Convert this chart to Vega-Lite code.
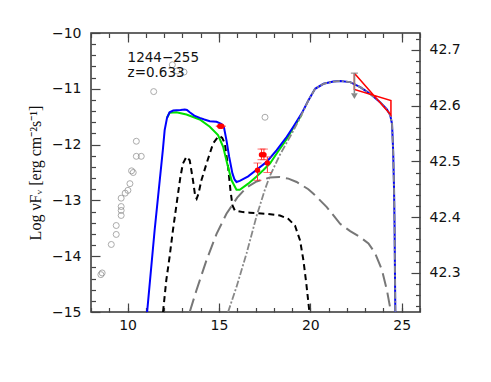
{
  "$schema": "https://vega.github.io/schema/vega-lite/v6.json",
  "width": 329,
  "height": 279,
  "autosize": {"type": "none"},
  "padding": {"left": 91, "top": 33, "right": 71, "bottom": 70},
  "background": "white",
  "config": {
    "view": {"stroke": "#333", "strokeWidth": 1.5},
    "axis": {"domain": false, "grid": false, "tickColor": "#444", "tickWidth": 1.2, "labelFont": "DejaVu Sans", "labelFontSize": 14, "labelColor": "#111", "titleFont": "Liberation Serif", "titleFontSize": 16, "titleFontWeight": "normal", "titleColor": "#111"}
  },
  "datasets": {
    "blue": [
      {"x": 11.07, "y": -15.0}, {"x": 11.48, "y": -13.54}, {"x": 11.93, "y": -12.10}, {"x": 12.03, "y": -11.74}, {"x": 12.16, "y": -11.52}, {"x": 12.30, "y": -11.42}, {"x": 12.5, "y": -11.39}, {"x": 12.67, "y": -11.385}, {"x": 12.9, "y": -11.38}, {"x": 13.13, "y": -11.37}, {"x": 13.25, "y": -11.38}, {"x": 13.40, "y": -11.42}, {"x": 13.65, "y": -11.48}, {"x": 13.95, "y": -11.52}, {"x": 14.2, "y": -11.55}, {"x": 14.50, "y": -11.58}, {"x": 14.87, "y": -11.59}, {"x": 15.14, "y": -11.63}, {"x": 15.28, "y": -11.70}, {"x": 15.41, "y": -11.92}, {"x": 15.56, "y": -12.22}, {"x": 15.74, "y": -12.52}, {"x": 15.86, "y": -12.63}, {"x": 15.96, "y": -12.67}, {"x": 16.14, "y": -12.65}, {"x": 16.60, "y": -12.57}, {"x": 17.06, "y": -12.45}, {"x": 17.61, "y": -12.31}, {"x": 18.16, "y": -12.10}, {"x": 18.71, "y": -11.86}, {"x": 19.07, "y": -11.68}, {"x": 19.53, "y": -11.44}, {"x": 19.89, "y": -11.21}, {"x": 20.26, "y": -11.00}, {"x": 20.72, "y": -10.91}, {"x": 21.26, "y": -10.87}, {"x": 21.63, "y": -10.86}, {"x": 22.18, "y": -10.88}, {"x": 22.73, "y": -10.97}, {"x": 23.27, "y": -11.09}, {"x": 23.82, "y": -11.24}, {"x": 24.19, "y": -11.37}, {"x": 24.37, "y": -11.47}, {"x": 24.47, "y": -11.63}, {"x": 24.53, "y": -12.1}, {"x": 24.58, "y": -12.8}, {"x": 24.61, "y": -13.5}, {"x": 24.63, "y": -14.3}, {"x": 24.65, "y": -15.0}
    ],
    "green": [
      {"x": 12.16, "y": -11.52}, {"x": 12.30, "y": -11.43}, {"x": 12.67, "y": -11.42}, {"x": 13.22, "y": -11.46}, {"x": 13.95, "y": -11.55}, {"x": 14.50, "y": -11.68}, {"x": 14.95, "y": -11.83}, {"x": 15.23, "y": -12.04}, {"x": 15.45, "y": -12.34}, {"x": 15.69, "y": -12.64}, {"x": 15.96, "y": -12.81}, {"x": 16.14, "y": -12.81}, {"x": 16.60, "y": -12.70}, {"x": 17.06, "y": -12.57}, {"x": 17.42, "y": -12.46}, {"x": 17.79, "y": -12.34}, {"x": 18.16, "y": -12.16}, {"x": 18.71, "y": -11.90}, {"x": 19.07, "y": -11.70}, {"x": 19.53, "y": -11.46}
    ],
    "black": [
      {"x": 11.94, "y": -15.0}, {"x": 12.12, "y": -14.43}, {"x": 12.30, "y": -14.01}, {"x": 12.48, "y": -13.54}, {"x": 12.71, "y": -13.00}, {"x": 12.89, "y": -12.58}, {"x": 13.03, "y": -12.34}, {"x": 13.22, "y": -12.22}, {"x": 13.40, "y": -12.28}, {"x": 13.58, "y": -12.64}, {"x": 13.70, "y": -12.92}, {"x": 13.78, "y": -12.97}, {"x": 13.88, "y": -12.88}, {"x": 14.04, "y": -12.64}, {"x": 14.32, "y": -12.34}, {"x": 14.68, "y": -11.98}, {"x": 14.95, "y": -11.86}, {"x": 15.05, "y": -11.85}, {"x": 15.18, "y": -11.88}, {"x": 15.32, "y": -11.98}, {"x": 15.50, "y": -12.40}, {"x": 15.63, "y": -12.82}, {"x": 15.74, "y": -13.09}, {"x": 15.87, "y": -13.18}, {"x": 16.32, "y": -13.21}, {"x": 16.69, "y": -13.22}, {"x": 17.61, "y": -13.24}, {"x": 18.34, "y": -13.27}, {"x": 18.79, "y": -13.33}, {"x": 19.16, "y": -13.45}, {"x": 19.44, "y": -13.72}, {"x": 19.62, "y": -14.07}, {"x": 19.78, "y": -14.49}, {"x": 19.88, "y": -14.79}, {"x": 19.95, "y": -15.0}
    ],
    "ssc": [
      {"x": 13.40, "y": -15.0}, {"x": 13.77, "y": -14.61}, {"x": 14.32, "y": -14.07}, {"x": 14.87, "y": -13.60}, {"x": 15.41, "y": -13.24}, {"x": 16.0, "y": -12.95}, {"x": 16.5, "y": -12.77}, {"x": 17.06, "y": -12.66}, {"x": 17.79, "y": -12.59}, {"x": 18.3, "y": -12.58}, {"x": 18.8, "y": -12.61}, {"x": 19.25, "y": -12.67}, {"x": 19.89, "y": -12.80}, {"x": 20.17, "y": -12.88}, {"x": 20.90, "y": -13.12}, {"x": 21.63, "y": -13.42}, {"x": 22.18, "y": -13.55}, {"x": 22.73, "y": -13.66}, {"x": 23.18, "y": -13.77}, {"x": 23.55, "y": -13.95}, {"x": 23.92, "y": -14.25}, {"x": 24.19, "y": -14.61}, {"x": 24.41, "y": -15.0}
    ],
    "ec": [
      {"x": 15.50, "y": -15.0}, {"x": 15.96, "y": -14.55}, {"x": 16.51, "y": -13.95}, {"x": 17.06, "y": -13.28}, {"x": 17.52, "y": -12.80}, {"x": 17.79, "y": -12.56}, {"x": 18.34, "y": -12.18}, {"x": 18.89, "y": -11.86}, {"x": 19.44, "y": -11.52}, {"x": 19.89, "y": -11.21}, {"x": 20.26, "y": -11.00}, {"x": 20.72, "y": -10.91}, {"x": 21.26, "y": -10.87}, {"x": 21.63, "y": -10.86}, {"x": 22.18, "y": -10.88}, {"x": 22.73, "y": -10.97}, {"x": 23.27, "y": -11.09}, {"x": 23.82, "y": -11.24}, {"x": 24.19, "y": -11.37}, {"x": 24.37, "y": -11.47}, {"x": 24.47, "y": -11.63}, {"x": 24.53, "y": -12.1}, {"x": 24.58, "y": -12.8}, {"x": 24.61, "y": -13.5}, {"x": 24.63, "y": -14.3}, {"x": 24.65, "y": -15.0}
    ],
    "circles": [
      {"x": 8.54, "y": -14.33}, {"x": 8.61, "y": -14.30}, {"x": 9.11, "y": -13.79}, {"x": 9.38, "y": -13.61}, {"x": 9.38, "y": -13.45}, {"x": 9.65, "y": -13.27}, {"x": 9.65, "y": -13.18}, {"x": 9.65, "y": -13.11}, {"x": 9.65, "y": -12.96}, {"x": 9.87, "y": -12.87}, {"x": 10.02, "y": -12.82}, {"x": 10.13, "y": -12.70}, {"x": 10.22, "y": -12.47}, {"x": 10.31, "y": -12.50}, {"x": 10.48, "y": -12.21}, {"x": 10.75, "y": -12.21}, {"x": 10.48, "y": -11.94}, {"x": 11.43, "y": -11.05}, {"x": 12.45, "y": -10.57}, {"x": 12.71, "y": -10.68}, {"x": 13.09, "y": -10.70}, {"x": 17.52, "y": -11.51}
    ],
    "red": [
      {"x": 15.05, "y": -11.67, "lo": -11.67, "hi": -11.67}, {"x": 15.15, "y": -11.67, "lo": -11.67, "hi": -11.67}, {"x": 17.11, "y": -12.46, "lo": -12.64, "hi": -12.33}, {"x": 17.33, "y": -12.18, "lo": -12.27, "hi": -12.08}, {"x": 17.46, "y": -12.18, "lo": -12.27, "hi": -12.08}, {"x": 17.65, "y": -12.33, "lo": -12.50, "hi": -12.22}
    ],
    "bowtie": [
      {"o": 1, "x": 22.41, "y": -10.72}, {"o": 2, "x": 24.41, "y": -11.47}, {"o": 3, "x": 24.41, "y": -11.21}, {"o": 4, "x": 22.41, "y": -11.01}, {"o": 5, "x": 22.41, "y": -10.72}
    ],
    "limit": [{"x": 22.41, "y": -10.72, "y2": -11.08, "tip": -11.13}],
    "labels": [
      {"x": 10.0, "y": -10.44, "t": "1244−255"}, {"x": 10.0, "y": -10.72, "t": "z=0.633"}
    ],
    "dummyL": [{"x": 10, "y": -12}],
    "dummyR": [{"x": 10, "y": 42.5}]
  },
  "layer": [
    {
      "encoding": {
        "x": {"field": "x", "type": "quantitative", "title": null, "scale": {"domain": [8, 26], "nice": false, "zero": false},
              "axis": {"orient": "bottom", "values": [10, 15, 20, 25], "tickSize": -9, "labelPadding": 15, "format": "d"}},
        "y": {"field": "y", "type": "quantitative", "title": "Log νFᵥ [erg cm⁻²s⁻¹]", "scale": {"domain": [-15, -10], "nice": false, "zero": false},
              "axis": {"orient": "left", "values": [-15, -14, -13, -12, -11, -10], "tickSize": -9, "labelPadding": 19, "format": "d", "titlePadding": 8}}
      },
      "layer": [
        {"data": {"name": "circles"}, "mark": {"type": "point", "shape": "circle", "filled": false, "size": 36, "stroke": "#888", "strokeWidth": 1, "clip": true}},
        {"data": {"name": "ssc"}, "mark": {"type": "line", "color": "#777", "strokeWidth": 2, "strokeDash": [14, 6], "clip": true}},
        {"data": {"name": "black"}, "mark": {"type": "line", "color": "#000", "strokeWidth": 2, "strokeDash": [6, 4], "clip": true}},
        {"data": {"name": "green"}, "mark": {"type": "line", "color": "#00e000", "strokeWidth": 2, "clip": true}},
        {"data": {"name": "blue"}, "mark": {"type": "line", "color": "#0000ff", "strokeWidth": 2, "clip": true}},
        {"data": {"name": "ec"}, "mark": {"type": "line", "color": "#888", "strokeWidth": 1.8, "strokeDash": [7, 2, 2, 2], "clip": true}},
        {"data": {"name": "red"}, "mark": {"type": "errorbar", "color": "#ff3030", "ticks": {"size": 8, "color": "#ff3030"}},
         "encoding": {"y": {"field": "lo", "type": "quantitative", "scale": {"domain": [-15, -10], "nice": false, "zero": false}}, "y2": {"field": "hi"}}},
        {"data": {"name": "red"}, "mark": {"type": "point", "shape": "circle", "filled": true, "size": 30, "color": "#ff0000", "opacity": 1}},
        {"data": {"name": "bowtie"}, "mark": {"type": "line", "color": "#ff0000", "strokeWidth": 1.5},
         "encoding": {"order": {"field": "o", "type": "quantitative"}}},
        {"data": {"name": "limit"}, "mark": {"type": "rule", "color": "#888", "strokeWidth": 1.5},
         "encoding": {"y2": {"field": "y2"}}},
        {"data": {"name": "limit"}, "mark": {"type": "point", "shape": "stroke", "size": 50, "color": "#888", "strokeWidth": 1.5, "filled": false}},
        {"data": {"name": "limit"}, "mark": {"type": "point", "shape": "triangle-down", "size": 45, "color": "#888", "filled": true, "opacity": 1},
         "encoding": {"y": {"field": "tip", "type": "quantitative", "scale": {"domain": [-15, -10], "nice": false, "zero": false}}}},
        {"data": {"name": "labels"}, "mark": {"type": "text", "align": "left", "baseline": "middle", "font": "DejaVu Sans", "fontSize": 13.5, "color": "#111"},
         "encoding": {"text": {"field": "t"}}}
      ]
    },
    {
      "data": {"name": "dummyL"},
      "mark": {"type": "point", "opacity": 0},
      "encoding": {
        "x": {"field": "x", "type": "quantitative", "title": null, "scale": {"domain": [8, 26], "nice": false, "zero": false},
              "axis": {"orient": "bottom", "values": [8, 9, 10, 11, 12, 13, 14, 15, 16, 17, 18, 19, 20, 21, 22, 23, 24, 25, 26], "tickSize": -4.5, "labels": false}},
        "y": {"field": "y", "type": "quantitative", "title": null, "scale": {"domain": [-15, -10], "nice": false, "zero": false},
              "axis": {"orient": "left", "values": [-14.8, -14.6, -14.4, -14.2, -13.8, -13.6, -13.4, -13.2, -12.8, -12.6, -12.4, -12.2, -11.8, -11.6, -11.4, -11.2, -10.8, -10.6, -10.4, -10.2], "tickSize": -4.5, "labels": false}}
      }
    },
    {
      "data": {"name": "dummyR"},
      "mark": {"type": "point", "opacity": 0},
      "encoding": {
        "x": {"field": "x", "type": "quantitative", "title": null, "scale": {"domain": [8, 26], "nice": false, "zero": false},
              "axis": {"orient": "top", "values": [10, 15, 20, 25], "tickSize": -9, "labels": false}},
        "y": {"field": "y", "type": "quantitative", "title": null, "scale": {"domain": [42.23, 42.73], "nice": false, "zero": false},
              "axis": {"orient": "right", "values": [42.3, 42.4, 42.5, 42.6, 42.7], "tickSize": -9, "labelPadding": 18, "format": ".1f"}}
      }
    },
    {
      "data": {"name": "dummyR"},
      "mark": {"type": "point", "opacity": 0},
      "encoding": {
        "x": {"field": "x", "type": "quantitative", "title": null, "scale": {"domain": [8, 26], "nice": false, "zero": false},
              "axis": {"orient": "top", "values": [8, 9, 10, 11, 12, 13, 14, 15, 16, 17, 18, 19, 20, 21, 22, 23, 24, 25, 26], "tickSize": -4.5, "labels": false}},
        "y": {"field": "y", "type": "quantitative", "title": null, "scale": {"domain": [42.23, 42.73], "nice": false, "zero": false},
              "axis": {"orient": "right", "values": [42.24, 42.26, 42.28, 42.32, 42.34, 42.36, 42.38, 42.42, 42.44, 42.46, 42.48, 42.52, 42.54, 42.56, 42.58, 42.62, 42.64, 42.66, 42.68, 42.72], "tickSize": -4.5, "labels": false}}
      }
    }
  ],
  "resolve": {"scale": {"y": "independent"}, "axis": {"x": "independent", "y": "independent"}}
}
